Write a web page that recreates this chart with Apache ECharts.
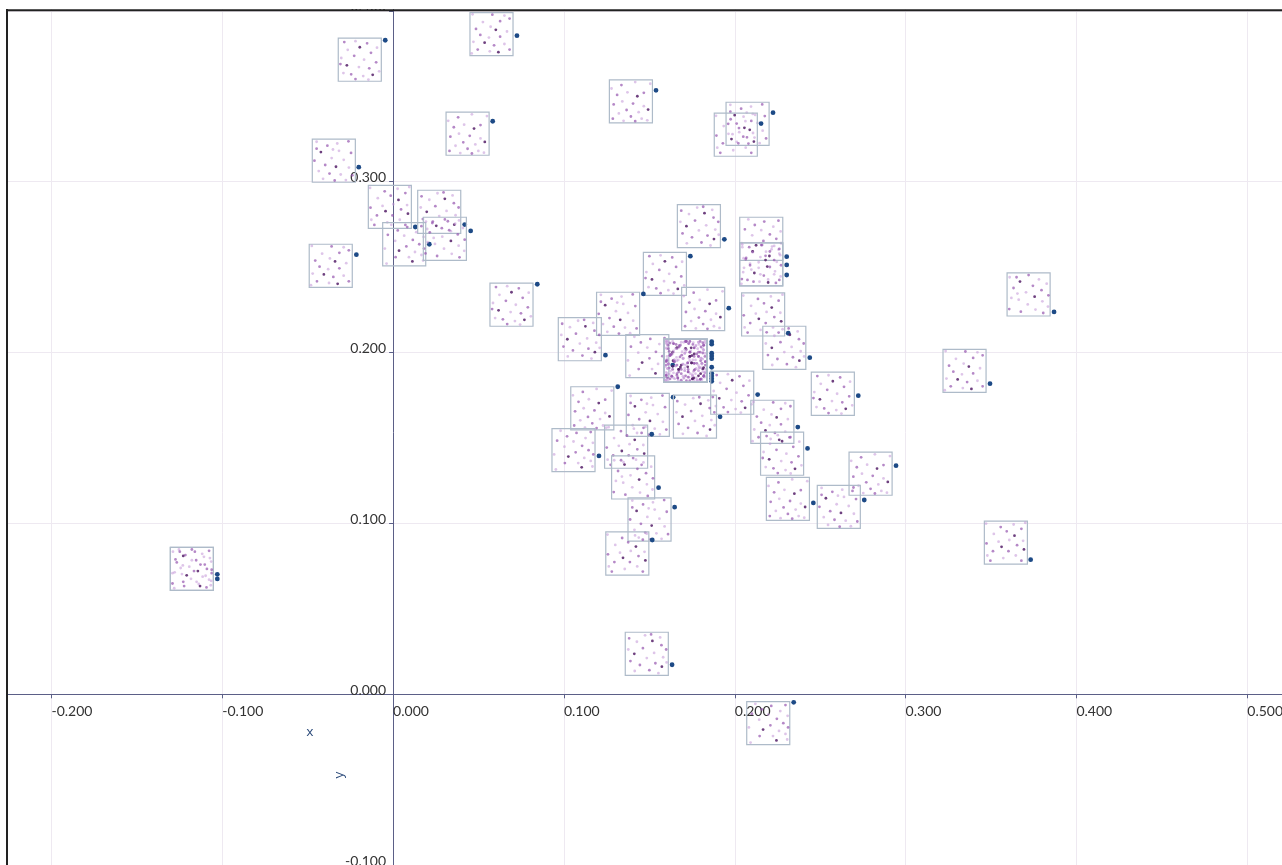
<!DOCTYPE html>
<html>
<head>
<meta charset="utf-8">
<script src="https://cdn.jsdelivr.net/npm/echarts@6/dist/echarts.min.js"></script>
<style>
html,body{margin:0;padding:0;background:#fff;}
#chart{width:1282px;height:865px;}
</style>
</head>
<body>
<div id="chart"></div>
<script>
// ---- data ----
// top-left corner of each thumbnail box (data units)
const boxLeft = [0.0450, -0.0321, 0.0310, -0.0473, -0.0145, 0.0144, -0.0061, 0.0177, -0.0491, 0.0567,
  0.1266, 0.1949, 0.1880, 0.1664, 0.2029, 0.2029, 0.2029, 0.1465, 0.1689, 0.1191, 0.2040, 0.0967, 0.1362,
  0.1586, 0.1586, 0.1586, 0.1586, 0.1586, 0.1586, 0.1586, 0.1586, 0.1586, 0.1586,
  0.1859, 0.1040, 0.1365, 0.1238, 0.1641, 0.0930, 0.1279, 0.2094, 0.2151, 0.2185, 0.1375, 0.1245, 0.1359, 0.2070,
  0.3594, 0.3219, 0.2448, 0.2669, 0.2483, 0.3461, 0.2164, -0.1304, -0.1304];
const boxTop = [0.3990, 0.3840, 0.3407, 0.3249, 0.2979, 0.2950, 0.2760, 0.2792, 0.2634, 0.2406,
  0.3596, 0.3465, 0.3401, 0.2866, 0.2792, 0.2642, 0.2642, 0.2587, 0.2381, 0.2353, 0.2349, 0.2204, 0.2105,
  0.2078, 0.2078, 0.2078, 0.2078, 0.2078, 0.2078, 0.2078, 0.2078, 0.2078, 0.2078,
  0.1891, 0.1800, 0.1761, 0.1575, 0.1751, 0.1555, 0.1395, 0.1721, 0.1534, 0.1270, 0.1149, 0.0950, 0.0363, -0.0043,
  0.2466, 0.2019, 0.1885, 0.1417, 0.1223, 0.1014, 0.2154, 0.0860, 0.0860];
// the points themselves (blue markers)
const pointX = [0.0725, -0.0046, 0.0583, -0.0201, 0.0130, 0.0419, 0.0212, 0.0454, -0.0215, 0.0844,
  0.1539, 0.2224, 0.2154, 0.1939, 0.2304, 0.2304, 0.2304, 0.1740, 0.1965, 0.1465, 0.2313, 0.1243, 0.1637,
  0.1865, 0.1865, 0.1865, 0.1865, 0.1865, 0.1865, 0.1865, 0.1865, 0.1865, 0.1865,
  0.2134, 0.1315, 0.1639, 0.1514, 0.1914, 0.1205, 0.1554, 0.2369, 0.2426, 0.2460, 0.1648, 0.1517, 0.1633, 0.2345,
  0.3869, 0.3494, 0.2723, 0.2944, 0.2758, 0.3732, 0.2439, -0.1029, -0.1029];
const pointY = [0.3855, 0.3828, 0.3354, 0.3085, 0.2735, 0.2749, 0.2634, 0.2712, 0.2573, 0.2400,
  0.3535, 0.3404, 0.3340, 0.2663, 0.2561, 0.2513, 0.2454, 0.2564, 0.2260, 0.2343, 0.2113, 0.1985, 0.1927,
  0.2064, 0.2049, 0.1996, 0.1980, 0.1964, 0.1914, 0.1879, 0.1863, 0.1847, 0.1832,
  0.1754, 0.1800, 0.1739, 0.1522, 0.1624, 0.1395, 0.1209, 0.1564, 0.1439, 0.1120, 0.1095, 0.0903, 0.0173, -0.0047,
  0.2238, 0.1818, 0.1748, 0.1338, 0.1137, 0.0788, 0.1970, 0.0702, 0.0675];
// sample dots inside each thumbnail: [u, v, shade] as fractions of the box
const samplePatterns = [
  [[.06,.04,0],[.52,.05,1],[.8,.07,0],[.92,.14,1],[.3,.22,0],[.7,.2,1],[.48,.33,0],[.14,.38,1],[.6,.4,2],[.86,.44,0],[.24,.52,1],
   [.44,.58,0],[.7,.56,1],[.08,.68,0],[.34,.7,2],[.56,.76,1],[.8,.73,0],[.18,.86,1],[.46,.9,0],[.66,.92,2],[.92,.86,1],[.04,.95,0]],
  [[.14,.09,1],[.4,.07,0],[.67,.12,1],[.9,.22,0],[.22,.27,0],[.5,.21,2],[.76,.34,1],[.07,.46,0],[.37,.41,1],[.6,.5,0],[.88,.56,1],
   [.2,.63,2],[.48,.67,0],[.72,.7,1],[.12,.81,0],[.3,.84,1],[.58,.88,0],[.8,.85,2],[.95,.77,0],[.4,.95,1],[.7,.96,0],[.05,.6,1]],
  [[.05,.2,0],[.28,.12,1],[.6,.05,0],[.8,.3,1],[.95,.09,0],[.18,.35,1],[.42,.29,0],[.65,.38,2],[.3,.5,0],[.55,.55,1],[.8,.61,0],
   [.1,.57,1],[.4,.7,1],[.68,.75,0],[.9,.69,2],[.22,.78,0],[.5,.85,1],[.75,.9,0],[.08,.9,1],[.33,.95,0],[.6,.96,1],[.88,.94,0]],
  [[.1,.06,0],[.35,.15,1],[.58,.1,0],[.84,.05,1],[.2,.3,2],[.62,.27,0],[.9,.32,1],[.45,.44,0],[.05,.5,1],[.73,.48,0],[.3,.6,1],
   [.55,.64,2],[.85,.66,0],[.15,.74,0],[.4,.8,1],[.66,.82,0],[.93,.84,1],[.25,.92,0],[.52,.96,1],[.78,.95,0],[.1,.22,1],[.48,.24,0]]
];
const xTicks = { min: -0.3, max: 0.6, interval: 0.1 };
const yTicks = { min: -0.2, max: 0.5, interval: 0.1 };
const axisNames = { x: 'x', y: 'y' };

// ---- style / layout ----
const boxSize = 0.0252;
const shades = ['rgba(195,150,215,0.55)', 'rgba(150,85,175,0.7)', 'rgba(85,30,105,0.85)'];
const axisColor = '#5b5f87';
const gridColor = '#eee9f1';
const labelFont = 'Lato, "Open Sans", sans-serif';
const G = { left: -119.4, top: -160, width: 1537.5, height: 1196 };
// pixel distance from grid edge to the zero lines (where the axes sit in the reference)
const xAxisOffset = -(G.top + G.height - 694.3);
const yAxisOffset = -(393.1 - G.left);

const data = boxLeft.map((v, i) => [v, boxTop[i], pointX[i], pointY[i]]);

const chart = echarts.init(document.getElementById('chart'), null, { renderer: 'canvas' });
chart.setOption({
  backgroundColor: '#ffffff',
  animation: false,
  grid: Object.assign({ containLabel: false, outerBoundsMode: 'none' }, G),
  xAxis: {
    type: 'value', min: xTicks.min, max: xTicks.max, interval: xTicks.interval,
    position: 'bottom', offset: xAxisOffset,
    axisLine: { onZero: false, lineStyle: { color: axisColor, width: 1 } },
    axisTick: { show: true, length: 4, lineStyle: { color: axisColor } },
    axisLabel: { formatter: v => v.toFixed(3), align: 'left', margin: 10, color: '#333', fontFamily: labelFont, fontSize: 14 },
    splitLine: { show: true, lineStyle: { color: gridColor, width: 1 } }
  },
  yAxis: {
    type: 'value', min: yTicks.min, max: yTicks.max, interval: yTicks.interval,
    position: 'left', offset: yAxisOffset,
    axisLine: { onZero: false, lineStyle: { color: axisColor, width: 1 } },
    axisTick: { show: true, length: 4, lineStyle: { color: axisColor } },
    axisLabel: { formatter: v => v.toFixed(3), verticalAlign: 'bottom', margin: 7, color: '#333', fontFamily: labelFont, fontSize: 14, lineHeight: 8 },
    splitLine: { show: true, lineStyle: { color: gridColor, width: 1 } }
  },
  series: [{
    type: 'custom',
    clip: false,
    encode: { x: [0, 2], y: [1, 3] },
    data: data,
    renderItem: function (params, api) {
      const i = params.dataIndex;
      const tl = api.coord([api.value(0), api.value(1)]);
      const br = api.coord([api.value(0) + boxSize, api.value(1) - boxSize]);
      const w = br[0] - tl[0], h = br[1] - tl[1];
      const pat = samplePatterns[i % samplePatterns.length];
      const swap = Math.floor(i / samplePatterns.length) % 2 === 1;
      const children = [{
        type: 'rect',
        shape: { x: tl[0], y: tl[1], width: w, height: h },
        style: { fill: 'rgba(255,255,255,0)', stroke: '#aebbc9', lineWidth: 1.2 }
      }];
      pat.forEach(d => {
        const u = swap ? d[1] : d[0];
        const v = swap ? d[0] : d[1];
        children.push({
          type: 'circle',
          shape: { cx: tl[0] + u * w, cy: tl[1] + v * h, r: 1.4 },
          style: { fill: shades[d[2]] }
        });
      });
      const pt = api.coord([api.value(2), api.value(3)]);
      children.push({ type: 'circle', shape: { cx: pt[0], cy: pt[1], r: 2.4 }, style: { fill: '#1d4a86' } });
      return { type: 'group', children: children };
    }
  }],
  graphic: [
    { type: 'rect', z: 100, shape: { x: 0, y: 0, width: 1282, height: 9 }, style: { fill: '#fff' } },
    { type: 'rect', z: 100, shape: { x: 0, y: 0, width: 6, height: 865 }, style: { fill: '#fff' } },
    { type: 'line', z: 101, shape: { x1: 6, y1: 10.2, x2: 1282, y2: 10.2 }, style: { stroke: '#222', lineWidth: 2 } },
    { type: 'line', z: 101, shape: { x1: 7, y1: 9, x2: 7, y2: 865 }, style: { stroke: '#222', lineWidth: 2 } },
    { type: 'text', z: 50, x: 310, y: 733, style: { text: axisNames.x, fill: '#2b4a7a', font: '13px "Liberation Mono", "DejaVu Sans Mono", monospace', align: 'center', verticalAlign: 'middle' } },
    { type: 'text', z: 50, x: 340, y: 775, rotation: Math.PI / 2, style: { text: axisNames.y, fill: '#2b4a7a', font: '13px "Liberation Mono", "DejaVu Sans Mono", monospace', align: 'center', verticalAlign: 'middle' } }
  ]
});
</script>
</body>
</html>
